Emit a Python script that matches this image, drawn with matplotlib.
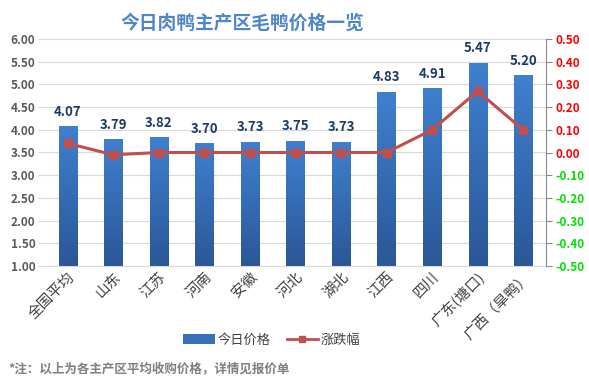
import matplotlib
matplotlib.use("Agg")
import matplotlib.pyplot as plt
import numpy as np
from matplotlib.lines import Line2D
from matplotlib.patches import Patch

plt.rcParams['font.family'] = ['Noto Sans CJK SC', 'DejaVu Sans']

categories = ["全国平均", "山东", "江苏", "河南", "安徽", "河北", "湖北", "江西", "四川", "广东(塘口)", "广西（旱鸭）"]
prices = [4.07, 3.79, 3.82, 3.70, 3.73, 3.75, 3.73, 4.83, 4.91, 5.47, 5.20]
changes = [0.04, -0.01, 0.00, 0.00, 0.00, 0.00, 0.00, 0.00, 0.10, 0.27, 0.10]
left_ticks = [1.00, 1.50, 2.00, 2.50, 3.00, 3.50, 4.00, 4.50, 5.00, 5.50, 6.00]
right_ticks = [-0.50, -0.40, -0.30, -0.20, -0.10, 0.00, 0.10, 0.20, 0.30, 0.40, 0.50]

W, H = 589, 389
fig = plt.figure(figsize=(W / 100, H / 100), dpi=100)
ax = fig.add_axes([45 / W, 1 - 266 / H, (546 - 45) / W, (266 - 39) / H])
x = np.arange(len(categories))

ax.set_ylim(1.0, 6.0)
ax.set_yticks(left_ticks)
ax.set_yticklabels([f"{v:.2f}" for v in left_ticks], color="#595959", fontsize=8.5, fontweight="bold")
ax.yaxis.grid(True, color="#d9d9d9", linewidth=0.8)
ax.set_axisbelow(True)
for s in ["top", "right", "left"]:
    ax.spines[s].set_visible(False)
ax.spines["bottom"].set_color("#d9d9d9")
ax.tick_params(axis="y", length=5, color="#d9d9d9", pad=2)
ax.tick_params(axis="x", length=0, pad=3)

# gradient bars
cmap = matplotlib.colors.LinearSegmentedColormap.from_list("b", ["#2b5797", "#3f80cf"])
grad = np.linspace(0, 1, 256).reshape(-1, 1)
bw = 0.4
bars = ax.bar(x, [p - 1.0 for p in prices], bottom=1.0, width=bw, color="#3670b8", zorder=2)
for b in bars:
    x0, y0 = b.get_x(), b.get_y()
    ax.imshow(grad, extent=[x0, x0 + b.get_width(), y0, y0 + b.get_height()],
              origin="lower", cmap=cmap, aspect="auto", zorder=2.1)
ax.set_xlim(-0.5, len(categories) - 0.5)
ax.set_ylim(1.0, 6.0)

for xi, p in zip(x, prices):
    ax.text(xi, p + 0.17, f"{p:.2f}", ha="center", va="bottom", fontsize=9.5,
            fontweight="bold", color="#1f3b64", zorder=5)

ax.set_xticks(x)
ax.set_xticklabels(categories, rotation=45, ha="right", rotation_mode="anchor",
                   fontsize=10.5, color="#404040")

ax2 = ax.twinx()
ax2.set_ylim(-0.5, 0.5)
ax2.set_yticks(right_ticks)
labs = ax2.set_yticklabels([f"{v:.2f}" for v in right_ticks], fontsize=8.5, fontweight="bold")
for v, t in zip(right_ticks, labs):
    t.set_color("#ff0000" if v >= 0 else "#00e000")
for s in ["top", "left", "bottom"]:
    ax2.spines[s].set_visible(False)
ax2.spines["right"].set_color("#8c8c8c")
ax2.tick_params(axis="y", length=4, color="#8c8c8c", pad=3)
ax2.plot(x, changes, color="#c0504d", linewidth=2.2, marker="s", markersize=6,
         markerfacecolor="#c0504d", markeredgecolor="#c0504d", zorder=4)

fig.text(242 / W, 1 - 23 / H, "今日肉鸭主产区毛鸭价格一览", ha="center", va="center",
         fontsize=13.5, fontweight="bold", color="#4f86c6")

handles = [Patch(facecolor="#3670b8", edgecolor="none"),
           Line2D([0], [0], color="#c0504d", linewidth=2, marker="s", markersize=5)]
fig.legend(handles, ["今日价格", "涨跌幅"], loc="center", bbox_to_anchor=(272 / W, 1 - 340 / H),
           ncol=2, frameon=False, fontsize=9.5, handlelength=2.4, handletextpad=0.2,
           columnspacing=1.2, labelcolor="#404040")

fig.text(8 / W, 1 - 369 / H, "*注：以上为各主产区平均收购价格，详情见报价单", ha="left", va="center",
         fontsize=9, fontweight="bold", color="#7f7f7f")

fig.savefig("out.png", dpi=100)
